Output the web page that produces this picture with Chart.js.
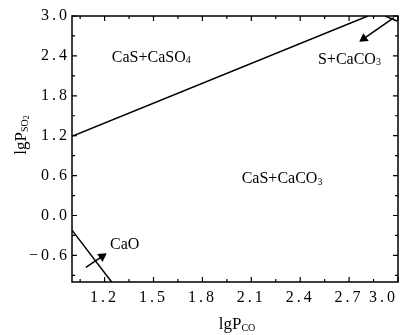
<!DOCTYPE html>
<html>
<head>
<meta charset="utf-8">
<script src="https://cdn.jsdelivr.net/npm/chart.js@4.4.1/dist/chart.umd.min.js"></script>
<style>
  html, body { margin: 0; padding: 0; background: #fff; }
  canvas { display: block; }
</style>
</head>
<body>
<canvas id="grafica" width="406" height="335"></canvas>
<script>
// ticks (minor ones have no label)
const xTicks = [1.05, 1.2, 1.35, 1.5, 1.65, 1.8, 1.95, 2.1, 2.25, 2.4, 2.55, 2.7, 2.85, 3.0];
const xLabels = [1.2, 1.5, 1.8, 2.1, 2.4, 2.7, 3.0];
const yTicks = [-0.9, -0.6, -0.3, 0.0, 0.3, 0.6, 0.9, 1.2, 1.5, 1.8, 2.1, 2.4, 2.7, 3.0];
const yLabels = [-0.6, 0.0, 0.6, 1.2, 1.8, 2.4, 3.0];

// phase boundaries
const lineSO4X = [1.0, 2.815];
const lineSO4Y = [1.19, 3.0];
const lineSX = [2.92, 2.995];
const lineSY = [3.0, 2.925];
const lineCaOX = [1.0, 1.243];
const lineCaOY = [-0.22, -1.0];

// arrows (head on the last point)
const arrowSX = [2.975, 2.79];
const arrowSY = [2.975, 2.66];
const arrowCaOX = [1.085, 1.185];
const arrowCaOY = [-0.78, -0.615];

// region labels: [text parts, x, y (baseline)]
const notes = [
  [[['CaS+CaSO', 0], ['4', 1]], 1.244, 2.31],
  [[['CaS+CaCO', 0], ['3', 1]], 2.041, 0.485],
  [[['S+CaCO', 0], ['3', 1]], 2.509, 2.285],
  [[['CaO', 0]], 1.233, -0.5]
];

const FUENTE = '"Liberation Serif", "DejaVu Serif", serif';

function puntos(xs, ys) {
  return xs.map((x, i) => ({ x: x, y: ys[i] }));
}

function cerca(lista, v) {
  return lista.some(t => Math.abs(t - v) < 1e-6);
}

function etiqueta(lista) {
  return function (value) {
    if (!cerca(lista, value)) return '';
    const s = Math.abs(value).toFixed(1);
    return value < -1e-9 ? '\u2212' + s : s;
  };
}

// rotate the triangle so it points along the segment
function angulo(ctx) {
  if (ctx.dataIndex === undefined) return 0;
  const d = ctx.dataset.data, i = ctx.dataIndex, j = i > 0 ? i - 1 : i + 1;
  const sx = ctx.chart.scales.x, sy = ctx.chart.scales.y;
  const dx = sx.getPixelForValue(d[i].x) - sx.getPixelForValue(d[j].x);
  const dy = sy.getPixelForValue(d[i].y) - sy.getPixelForValue(d[j].y);
  return Math.atan2(dx, -dy) * 180 / Math.PI;
}

function linea(xs, ys) {
  return {
    data: puntos(xs, ys),
    showLine: true,
    borderColor: '#000',
    backgroundColor: '#000',
    borderWidth: 1.5,
    pointRadius: 0
  };
}

function flecha(xs, ys) {
  return {
    data: puntos(xs, ys),
    showLine: true,
    borderColor: '#000',
    backgroundColor: '#000',
    borderWidth: 1.5,
    pointStyle: 'triangle',
    pointRadius: xs.map((x, i) => i === xs.length - 1 ? 4 : 0),
    pointRotation: angulo
  };
}

// text with subscripts; parts = [text, level]
function textoRico(ctx, parts, x, y, align, size) {
  const tam = [size, 10, 8];
  const baja = [0, 1.5, 3];
  let w = 0;
  parts.forEach(p => {
    ctx.font = tam[p[1]] + 'px ' + FUENTE;
    w += ctx.measureText(p[0]).width;
  });
  let cx = align === 'center' ? x - w / 2 : x;
  ctx.textAlign = 'left';
  ctx.textBaseline = 'alphabetic';
  parts.forEach(p => {
    ctx.font = tam[p[1]] + 'px ' + FUENTE;
    ctx.fillText(p[0], cx, y + baja[p[1]]);
    cx += ctx.measureText(p[0]).width;
  });
}

const marco = {
  id: 'marco',
  beforeDraw(chart) {
    chart.ctx.letterSpacing = '3px';
  },
  afterDraw(chart) {
    const ctx = chart.ctx, a = chart.chartArea;
    const sx = chart.scales.x, sy = chart.scales.y;
    ctx.save();
    ctx.letterSpacing = '0px';
    ctx.strokeStyle = '#000';
    ctx.fillStyle = '#000';
    ctx.lineWidth = 1.5;
    ctx.strokeRect(a.left, a.top, a.right - a.left, a.bottom - a.top);

    // inward tick marks on all four sides
    ctx.lineWidth = 1.2;
    ctx.beginPath();
    xTicks.forEach(v => {
      const px = sx.getPixelForValue(v);
      const l = cerca(xLabels, v) ? 5 : 3;
      ctx.moveTo(px, a.bottom); ctx.lineTo(px, a.bottom - l);
      ctx.moveTo(px, a.top); ctx.lineTo(px, a.top + l);
    });
    yTicks.forEach(v => {
      const py = sy.getPixelForValue(v);
      const l = cerca(yLabels, v) ? 5 : 3;
      ctx.moveTo(a.left, py); ctx.lineTo(a.left + l, py);
      ctx.moveTo(a.right, py); ctx.lineTo(a.right - l, py);
    });
    ctx.stroke();

    // region labels
    notes.forEach(n => {
      textoRico(ctx, n[0], sx.getPixelForValue(n[1]), sy.getPixelForValue(n[2]), 'left', 16);
    });

    // axis titles
    textoRico(ctx, [['lgP', 0], ['CO', 1]], (a.left + a.right) / 2 + 2, 329, 'center', 17);
    ctx.save();
    ctx.translate(26, 135);
    ctx.rotate(-Math.PI / 2);
    textoRico(ctx, [['lgP', 0], ['SO', 1], ['2', 2]], 0, 0, 'center', 17);
    ctx.restore();

    ctx.restore();
  }
};

new Chart(document.getElementById('grafica'), {
  type: 'scatter',
  data: {
    datasets: [
      linea(lineSO4X, lineSO4Y),
      linea(lineSX, lineSY),
      linea(lineCaOX, lineCaOY),
      flecha(arrowSX, arrowSY),
      flecha(arrowCaOX, arrowCaOY)
    ]
  },
  options: {
    responsive: false,
    animation: false,
    devicePixelRatio: 1,
    layout: { padding: { top: 16, right: 8, left: 0, bottom: 0 } },
    plugins: {
      legend: { display: false },
      tooltip: { enabled: false }
    },
    scales: {
      x: {
        type: 'linear',
        position: 'bottom',
        min: 1.0,
        max: 3.0,
        afterBuildTicks: s => { s.ticks = xTicks.map(v => ({ value: v })); },
        afterFit: s => { s.height = 53; s.paddingLeft = 0; s.paddingRight = 0; },
        grid: { display: false, drawTicks: false },
        border: { display: false },
        ticks: {
          autoSkip: false,
          maxRotation: 0,
          padding: 6,
          align: 'inner',
          color: '#000',
          font: { family: FUENTE, size: 16 },
          callback: etiqueta(xLabels)
        }
      },
      y: {
        type: 'linear',
        min: -1.0,
        max: 3.0,
        afterBuildTicks: s => { s.ticks = yTicks.map(v => ({ value: v })); },
        afterFit: s => { s.width = 72; s.paddingTop = 0; s.paddingBottom = 0; },
        grid: { display: false, drawTicks: false },
        border: { display: false },
        ticks: {
          autoSkip: false,
          padding: 2,
          color: '#000',
          font: { family: FUENTE, size: 16 },
          callback: etiqueta(yLabels)
        }
      }
    }
  },
  plugins: [marco]
});
</script>
</body>
</html>
